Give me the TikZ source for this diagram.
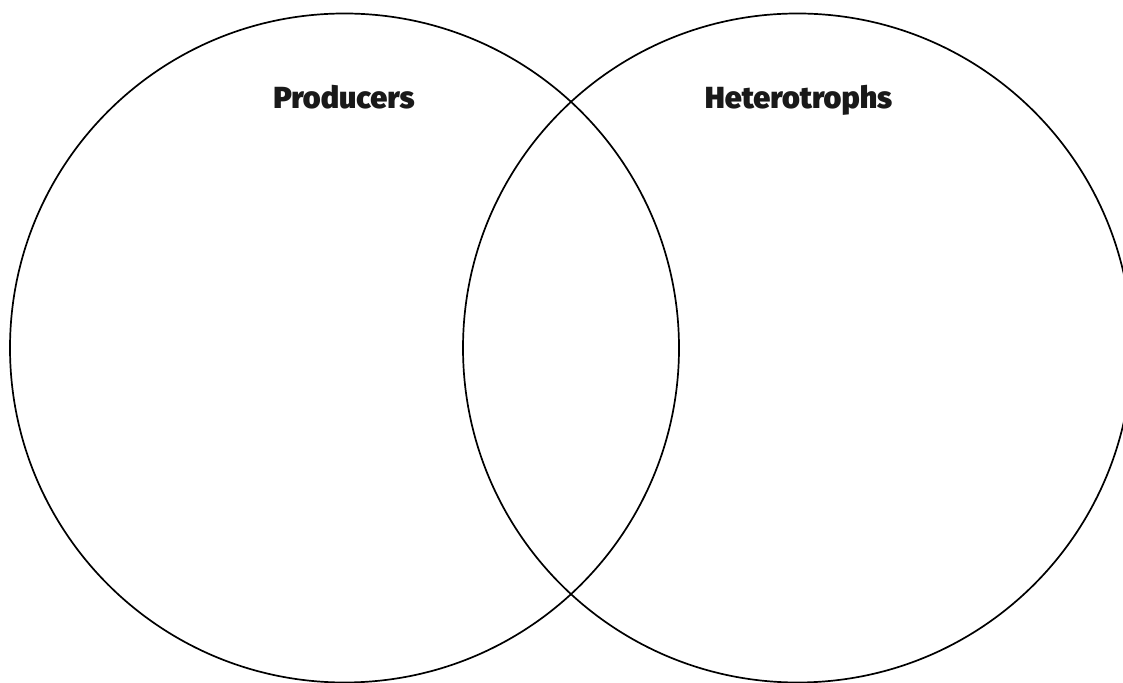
\documentclass[tikz,border=0pt]{standalone}
\usepackage{fontspec}
\setmainfont{Fira Sans}
\newfontfamily\heavyfont{Fira Sans Black}
\usetikzlibrary{positioning}

\begin{document}
\begin{tikzpicture}[
			x=1pt, y=1pt,
			set/.style={draw, circle, line width=1.7pt, minimum size=669pt, inner sep=0pt},
			title/.style={anchor=base, font=\heavyfont\fontsize{30.5}{36}\selectfont, text=black!90}
			]
			\useasboundingbox (0,0) rectangle (1123,682);
			% --- Dwa zbiory ---
			\node[set] (prod) at (344.5,334) {};
			\node[set] (het) at (797.5,334) {};
			
			% --- Podpisy zbiorow ---
			\node[title] (prodlabel) at (344,573.5) {Producers};
			\node[title] (hetlabel) at (798.5,573.5) {Heterotrophs};
			
		\end{tikzpicture}
\end{document}
